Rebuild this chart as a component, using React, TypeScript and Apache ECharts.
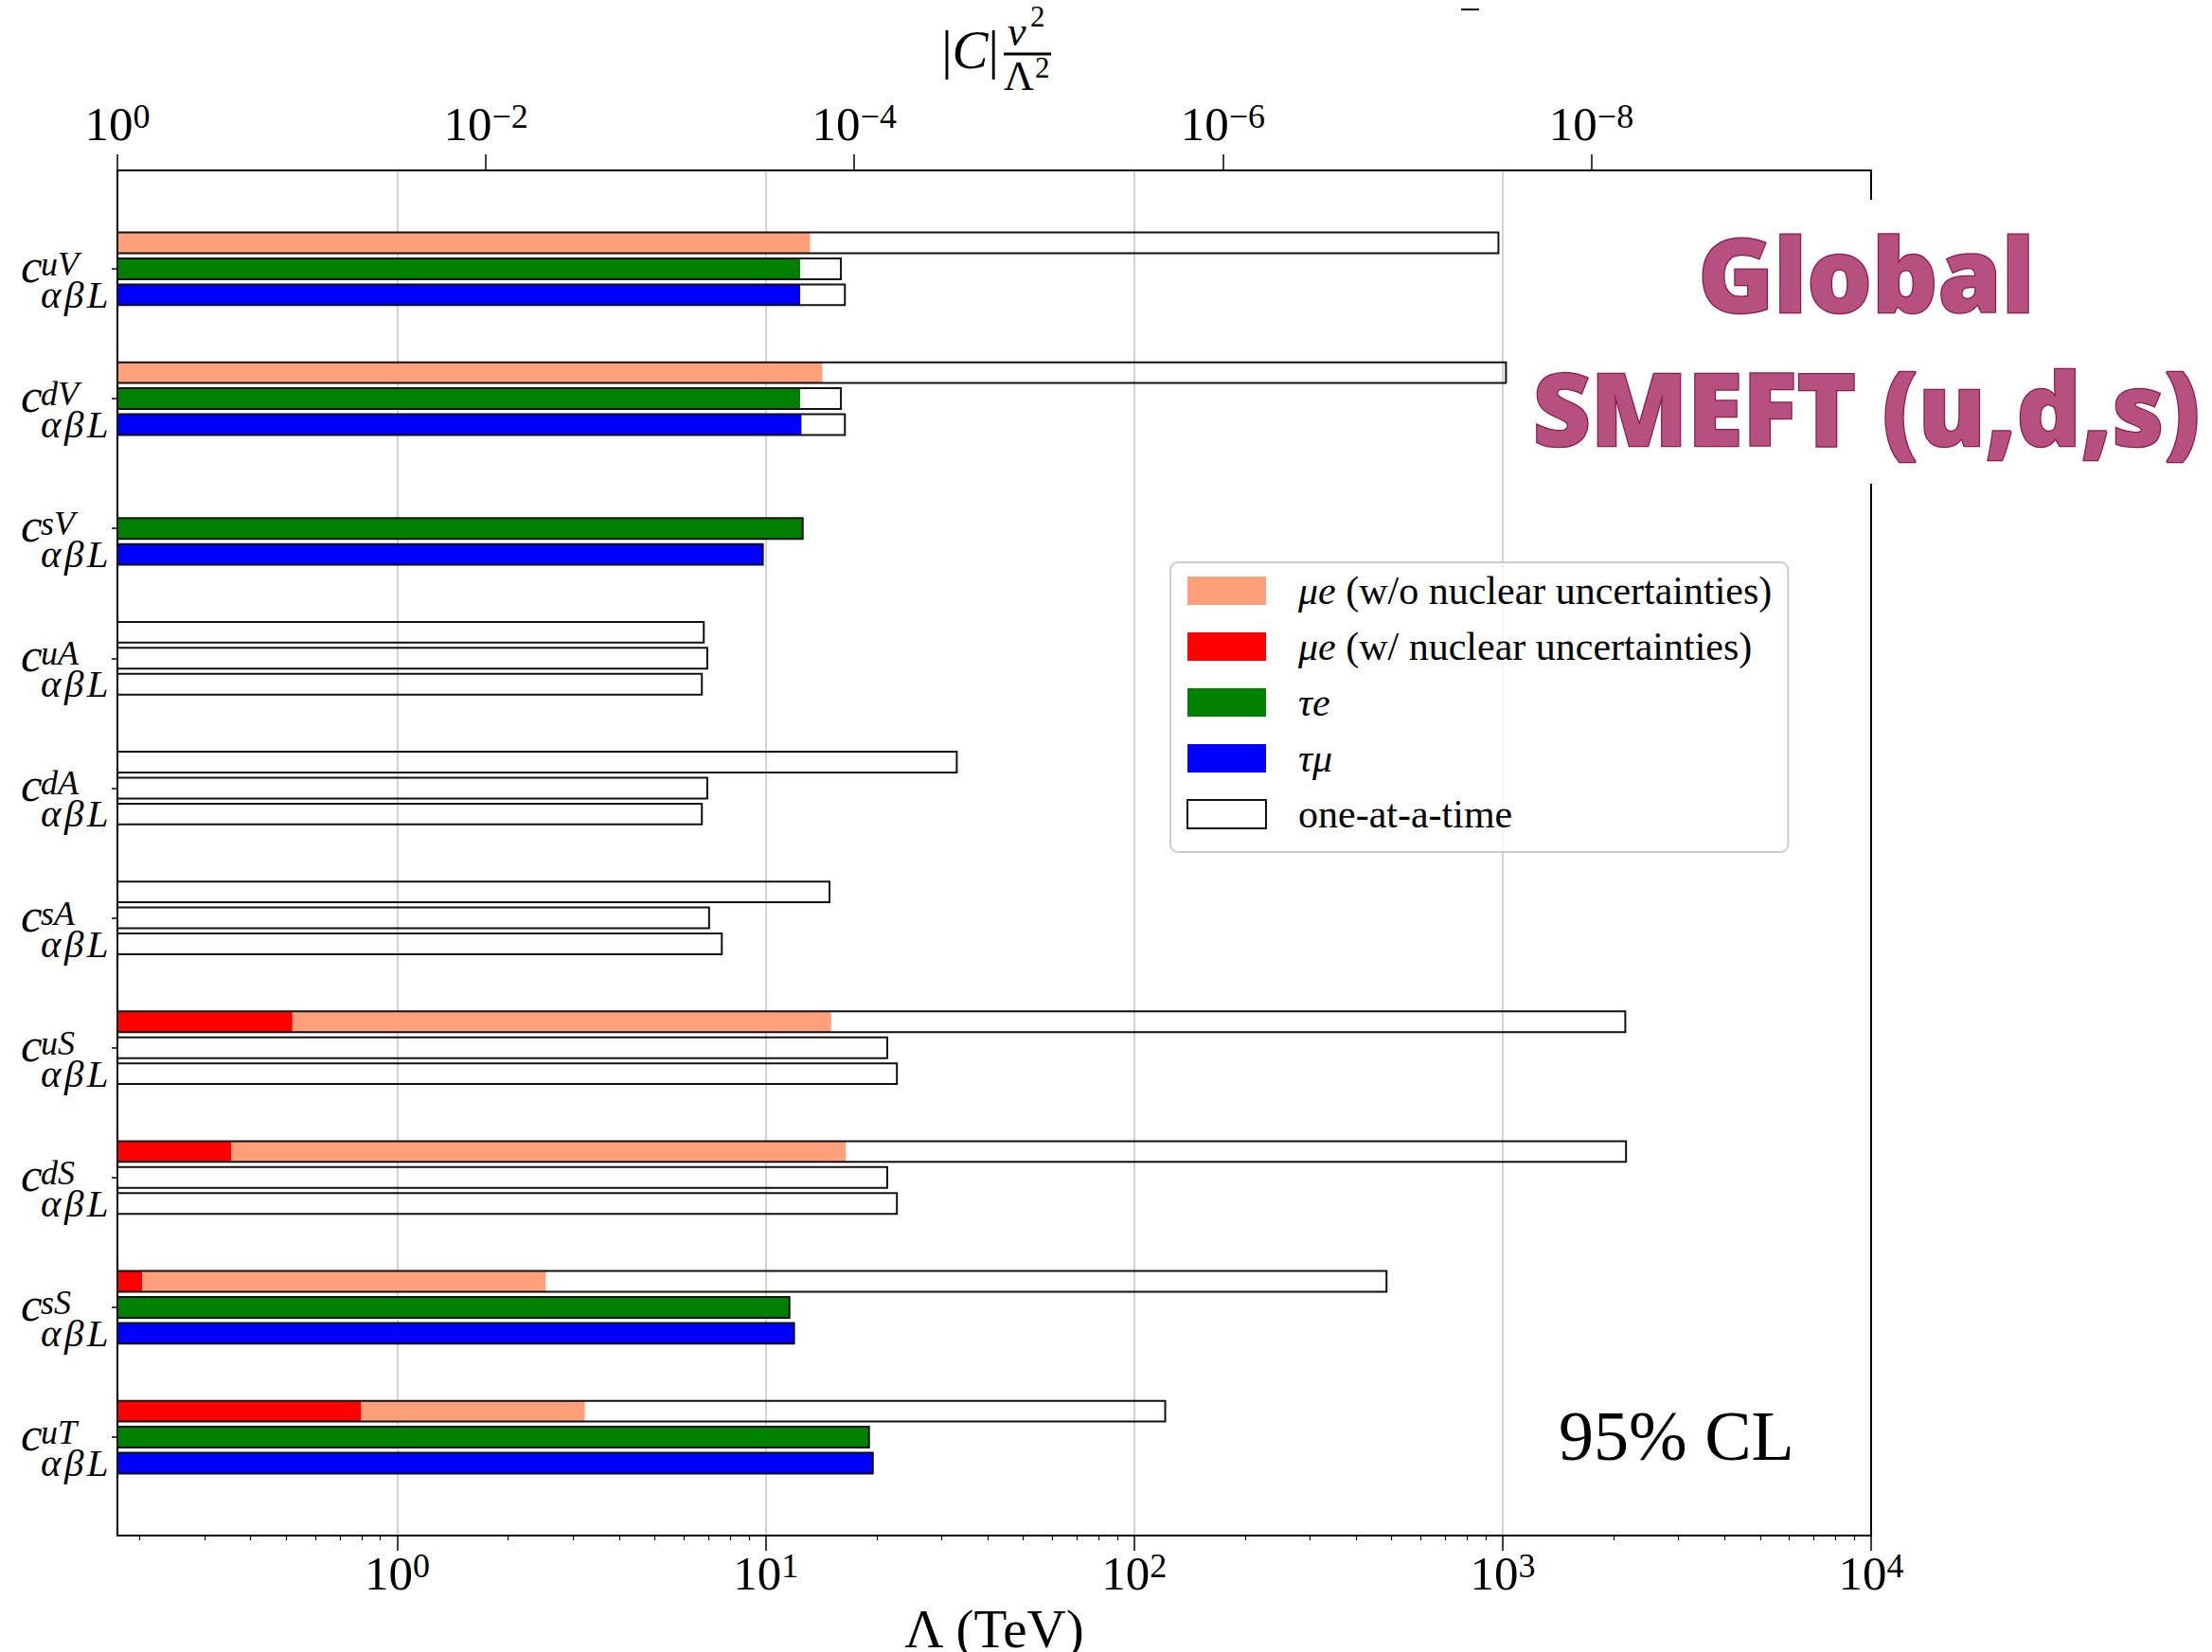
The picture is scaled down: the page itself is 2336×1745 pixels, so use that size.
import { useEffect, useRef } from 'react';
import * as echarts from 'echarts';

const SERIF = "'Liberation Serif', 'Times New Roman', Times, serif";
const SANS = "'Open Sans', 'Noto Sans', sans-serif";

// ---- categories ----
const groups = ['uV', 'dV', 'sV', 'uA', 'dA', 'sA', 'uS', 'dS', 'sS', 'uT'];
const groupIndex = [0, 1, 2, 3, 4, 5, 6, 7, 8, 9];
const ROW_OFFSETS = [-0.2, 0, 0.2];
const BAR_HEIGHT = 0.16;
const LAMBDA_MIN = 0.174;
const LAMBDA_MAX = 1e4;
const Y_MIN = -0.758;
const Y_MAX = 9.758;

// ---- series values (Λ in TeV) ----
const mueWithoutNuclear = [13.2, 14.25, null, null, null, null, 15.05, 16.5, 2.53, 3.23];
const mueWithNuclear = [null, null, null, null, null, null, 0.519, 0.354, 0.203, 0.797];
const tauE = [12.4, 12.4, 12.6, null, null, null, null, null, 11.6, 19.07];
const tauMu = [12.4, 12.5, 9.82, null, null, null, null, null, 11.94, 19.53];
const oneAtATimeMuE = [974, 1021, null, 6.79, 33.0, 14.9, 2152, 2162, 484, 121.4];
const oneAtATimeTauE = [16.0, 16.0, 12.6, 6.94, 6.94, 7.02, 21.37, 21.37, 11.6, 19.07];
const oneAtATimeTauMu = [16.4, 16.4, 9.82, 6.71, 6.71, 7.6, 22.7, 22.7, 11.94, 19.53];

// ---- ticks ----
const bottomTicks = [1, 10, 100, 1000, 10000];
const bottomMinorTicks = [
  0.2, 0.3, 0.4, 0.5, 0.6, 0.7, 0.8, 0.9,
  2, 3, 4, 5, 6, 7, 8, 9,
  20, 30, 40, 50, 60, 70, 80, 90,
  200, 300, 400, 500, 600, 700, 800, 900,
  2000, 3000, 4000, 5000, 6000, 7000, 8000, 9000,
];
const topTicks = [1, 1e-2, 1e-4, 1e-6, 1e-8];
const C_MIN = Math.pow(LAMBDA_MIN / LAMBDA_MAX, 2);

// ---- legend ----
const LEG_WO = 'μe (w/o nuclear uncertainties)';
const LEG_W = 'μe (w/ nuclear uncertainties)';
const LEG_TE = 'τe';
const LEG_TM = 'τμ';
const LEG_OAT = 'one-at-a-time';
const legendRich: Record<string, string> = {
  [LEG_WO]: '{sp| }{i|μe} (w/o nuclear uncertainties)',
  [LEG_W]: '{sp| }{i|μe} (w/ nuclear uncertainties)',
  [LEG_TE]: '{sp| }{i|τe}',
  [LEG_TM]: '{sp| }{i|τμ}',
  [LEG_OAT]: '{sp| }one-at-a-time',
};

const COLORS = {
  wo: '#FFA07A',
  w: '#FF0000',
  te: '#008000',
  tm: '#0000FF',
};

function rowData(values: (number | null)[], row: number) {
  const out: number[][] = [];
  values.forEach((v, i) => {
    if (v != null) out.push([v, groupIndex[i] + ROW_OFFSETS[row]]);
  });
  return out;
}

function barRenderer(fill: string, outline: boolean) {
  return (_params: any, api: any) => {
    const v = api.value(0);
    const y = api.value(1);
    const p0 = api.coord([LAMBDA_MIN, y]);
    const p1 = api.coord([v, y]);
    const yTop = api.coord([v, y - BAR_HEIGHT / 2])[1];
    const yBot = api.coord([v, y + BAR_HEIGHT / 2])[1];
    return {
      type: 'rect',
      shape: {
        x: p0[0],
        y: Math.min(yTop, yBot),
        width: p1[0] - p0[0],
        height: Math.abs(yBot - yTop),
      },
      style: outline ? { fill: 'none', stroke: '#111', lineWidth: 2 } : { fill },
    };
  };
}

function powLabel(v: number) {
  const l = Math.log10(v);
  const e = Math.round(l);
  if (Math.abs(l - e) > 1e-6) return '';
  const s = e < 0 ? '−' + Math.abs(e) : String(e);
  return `{b|10}{s|${s}}`;
}

const tickRich = {
  b: { fontFamily: SERIF, fontSize: 51, lineHeight: 51, color: '#000' },
  s: { fontFamily: SERIF, fontSize: 36, lineHeight: 24, verticalAlign: 'top', color: '#000' },
};

const STAMP_FILL = '#b5507f';
const STAMP_EDGE = '#8a1b4c';

function makeOption() {
  const customBase = { type: 'custom', xAxisIndex: 0, yAxisIndex: 0, encode: { x: 0, y: 1 }, clip: false };
  return {
    animation: false,
    backgroundColor: '#ffffff',
    grid: { left: 124, right: 360, top: 180, bottom: 123, containLabel: false, outerBoundsMode: 'none' },
    legend: {
      orient: 'vertical',
      left: 1236,
      top: 594,
      itemWidth: 83,
      itemHeight: 30,
      itemGap: 17,
      padding: [9, 17, 19, 17],
      backgroundColor: 'rgba(255,255,255,0.8)',
      borderColor: '#cccccc',
      borderWidth: 2,
      borderRadius: 8,
      icon: 'rect',
      selectedMode: false,
      formatter: (name: string) => legendRich[name] || name,
      textStyle: {
        fontFamily: SERIF,
        fontSize: 42,
        lineHeight: 30,
        color: '#000',
        rich: {
          sp: { width: 29, fontSize: 42, lineHeight: 30 },
          i: { fontFamily: SERIF, fontStyle: 'italic', fontSize: 42, lineHeight: 30, color: '#000' },
        },
      },
      data: [
        { name: LEG_WO, itemStyle: { color: COLORS.wo, borderWidth: 0 } },
        { name: LEG_W, itemStyle: { color: COLORS.w, borderWidth: 0 } },
        { name: LEG_TE, itemStyle: { color: COLORS.te, borderWidth: 0 } },
        { name: LEG_TM, itemStyle: { color: COLORS.tm, borderWidth: 0 } },
        { name: LEG_OAT, itemStyle: { color: '#ffffff', borderColor: '#111', borderWidth: 2 } },
      ],
    },
    xAxis: [
      {
        type: 'log',
        position: 'bottom',
        min: LAMBDA_MIN,
        max: LAMBDA_MAX,
        logBase: 10,
        axisLine: { show: true, onZero: false, lineStyle: { color: '#000', width: 2 } },
        axisTick: { show: true, length: 16, lineStyle: { color: '#000', width: 1.5 }, customValues: bottomTicks },
        axisLabel: { show: true, margin: 14, customValues: bottomTicks, formatter: powLabel, rich: tickRich },
        splitLine: { show: true, lineStyle: { color: '#c4c4c4', width: 1.5 } },
        name: 'Λ (TeV)',
        nameLocation: 'middle',
        nameGap: 51,
        nameTextStyle: { fontFamily: SERIF, fontSize: 57, color: '#000' },
      },
      {
        type: 'log',
        position: 'bottom',
        min: LAMBDA_MIN,
        max: LAMBDA_MAX,
        logBase: 10,
        axisLine: { show: false, onZero: false },
        axisTick: { show: true, length: 5, lineStyle: { color: '#000', width: 1.2 }, customValues: bottomMinorTicks },
        axisLabel: { show: false },
        splitLine: { show: false },
      },
      {
        type: 'log',
        position: 'top',
        inverse: true,
        min: C_MIN,
        max: 1,
        logBase: 100,
        axisLine: { show: true, onZero: false, lineStyle: { color: '#000', width: 2 } },
        axisTick: { show: true, length: 17, lineStyle: { color: '#000', width: 1.5 }, customValues: topTicks },
        axisLabel: { show: true, margin: 24, customValues: topTicks, formatter: powLabel, rich: tickRich },
        splitLine: { show: false },
      },
    ],
    yAxis: [
      {
        type: 'value',
        position: 'left',
        inverse: true,
        min: Y_MIN,
        max: Y_MAX,
        axisLine: { show: true, onZero: false, lineStyle: { color: '#000', width: 2 } },
        axisTick: { show: true, length: 6, lineStyle: { color: '#000', width: 1.5 }, customValues: groupIndex },
        axisLabel: {
          show: true,
          margin: 9,
          customValues: groupIndex,
          padding: [14, 0, 0, 0],
          formatter: (v: number) => {
            const i = Math.round(v);
            if (Math.abs(v - i) > 1e-6 || i < 0 || i >= groups.length) return '';
            return `{c|c}{sup|${groups[i]}}\n{w| }{sub|α\u200Aβ\u200AL}`;
          },
          rich: {
            c: { fontFamily: SERIF, fontStyle: 'italic', fontSize: 51, width: 21, lineHeight: 40, align: 'left', color: '#000' },
            sup: { fontFamily: SERIF, fontStyle: 'italic', fontSize: 36, width: 72, lineHeight: 30, verticalAlign: 'top', align: 'left', color: '#000' },
            w: { fontSize: 20, width: 21, lineHeight: 20, align: 'left' },
            sub: { fontFamily: SERIF, fontStyle: 'italic', fontSize: 41, width: 72, lineHeight: 20, align: 'left', color: '#000' },
          },
        },
        splitLine: { show: false },
      },
      {
        type: 'value',
        position: 'right',
        inverse: true,
        min: Y_MIN,
        max: Y_MAX,
        axisLine: { show: true, onZero: false, lineStyle: { color: '#000', width: 2 } },
        axisTick: { show: false },
        axisLabel: { show: false },
        splitLine: { show: false },
      },
    ],
    series: [
      { ...customBase, name: LEG_WO, itemStyle: { color: COLORS.wo }, z: 2, renderItem: barRenderer(COLORS.wo, false), data: rowData(mueWithoutNuclear, 0) },
      { ...customBase, name: LEG_W, itemStyle: { color: COLORS.w }, z: 3, renderItem: barRenderer(COLORS.w, false), data: rowData(mueWithNuclear, 0) },
      { ...customBase, name: LEG_TE, itemStyle: { color: COLORS.te }, z: 2, renderItem: barRenderer(COLORS.te, false), data: rowData(tauE, 1) },
      { ...customBase, name: LEG_TM, itemStyle: { color: COLORS.tm }, z: 2, renderItem: barRenderer(COLORS.tm, false), data: rowData(tauMu, 2) },
      {
        ...customBase,
        name: LEG_OAT,
        itemStyle: { color: '#ffffff', borderColor: '#111', borderWidth: 2 },
        z: 4,
        renderItem: barRenderer('none', true),
        data: [...rowData(oneAtATimeMuE, 0), ...rowData(oneAtATimeTauE, 1), ...rowData(oneAtATimeTauMu, 2)],
      },
    ],
    graphic: [
      // top axis title |C| v^2/Λ^2
      {
        type: 'text', x: 1055, y: 52, z: 10,
        style: {
          text: '{a||}{b|C}{a||}', align: 'right', verticalAlign: 'middle',
          rich: {
            a: { fontFamily: SERIF, fontSize: 57, fill: '#000' },
            b: { fontFamily: SERIF, fontSize: 57, fontStyle: 'italic', fill: '#000' },
          },
        },
      },
      { type: 'text', x: 1064, y: 33, z: 10, style: { text: 'v', fontFamily: SERIF, fontStyle: 'italic', fontSize: 44, fill: '#000', align: 'left', verticalAlign: 'middle' } },
      { type: 'text', x: 1088, y: 17, z: 10, style: { text: '2', fontFamily: SERIF, fontSize: 31, fill: '#000', align: 'left', verticalAlign: 'middle' } },
      { type: 'line', z: 10, shape: { x1: 1060, y1: 57, x2: 1110, y2: 57 }, style: { stroke: '#000', lineWidth: 3 } },
      { type: 'text', x: 1060, y: 80, z: 10, style: { text: 'Λ', fontFamily: SERIF, fontSize: 44, fill: '#000', align: 'left', verticalAlign: 'middle' } },
      { type: 'text', x: 1093, y: 71, z: 10, style: { text: '2', fontFamily: SERIF, fontSize: 31, fill: '#000', align: 'left', verticalAlign: 'middle' } },
      { type: 'line', z: 10, shape: { x1: 1543, y1: 10, x2: 1562, y2: 10 }, style: { stroke: '#000', lineWidth: 2 } },
      // 95% CL
      { type: 'text', x: 1646, y: 1517, z: 10, style: { text: '95% CL', fontFamily: SERIF, fontSize: 74, fill: '#000', align: 'left', verticalAlign: 'middle' } },
      // Global SMEFT stamp
      { type: 'rect', z: 50, shape: { x: 1600, y: 211, width: 736, height: 300 }, style: { fill: '#ffffff' } },
      { type: 'text', x: 1971, y: 288, z: 51, style: { text: 'Global', fontFamily: SANS, fontWeight: 800, fontSize: 108, fill: STAMP_FILL, stroke: STAMP_EDGE, lineWidth: 2.5, align: 'center', verticalAlign: 'middle' } },
      { type: 'text', x: 1971, y: 430, z: 51, style: { text: 'SMEFT (u,d,s)', fontFamily: SANS, fontWeight: 800, fontSize: 106, fill: STAMP_FILL, stroke: STAMP_EDGE, lineWidth: 2.5, align: 'center', verticalAlign: 'middle' } },
    ],
  };
}

export default function App() {
  const ref = useRef<HTMLDivElement>(null);
  useEffect(() => {
    document.body.style.margin = '0';
    const chart = echarts.init(ref.current as HTMLDivElement, null, { renderer: 'svg' });
    chart.setOption(makeOption() as any);
    return () => chart.dispose();
  }, []);
  return (
    <div
      ref={ref}
      style={{ position: 'absolute', left: 0, top: 0, width: 2336, height: 1745, background: '#fff' }}
    />
  );
}
